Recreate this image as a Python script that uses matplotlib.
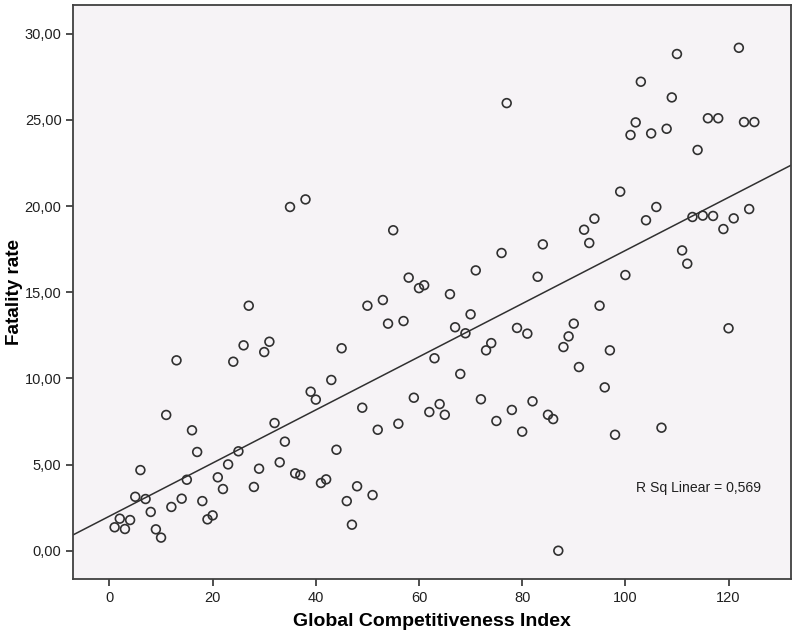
import numpy as np
import matplotlib.pyplot as plt
from matplotlib.ticker import FuncFormatter

# Global Competitiveness Index rank (1..125) and fatality rate
gci = np.arange(1, 126)
fatality = [
    1.36, 1.86, 1.26, 1.78, 3.13, 4.68, 3.00, 2.25, 1.24, 0.76,
    7.88, 2.54, 11.05, 3.02, 4.12, 6.99, 5.73, 2.88, 1.82, 2.05,
    4.26, 3.58, 5.01, 10.97, 5.77, 11.92, 14.22, 3.70, 4.76, 11.53,
    12.13, 7.41, 5.13, 6.33, 19.95, 4.49, 4.39, 20.39, 9.23, 8.77,
    3.93, 4.14, 9.91, 5.86, 11.75, 2.88, 1.51, 3.74, 8.30, 14.22,
    3.23, 7.02, 14.55, 13.18, 18.60, 7.37, 13.33, 15.85, 8.88, 15.24,
    15.41, 8.05, 11.17, 8.51, 7.89, 14.89, 12.97, 10.26, 12.62, 13.72,
    16.27, 8.79, 11.63, 12.05, 7.53, 17.28, 25.98, 8.17, 12.93, 6.91,
    12.60, 8.67, 15.90, 17.78, 7.89, 7.64, 0.00, 11.82, 12.44, 13.18,
    10.66, 18.63, 17.86, 19.27, 14.22, 9.48, 11.63, 6.73, 20.84, 16.00,
    24.13, 24.86, 27.22, 19.18, 24.22, 19.95, 7.14, 24.49, 26.31, 28.83,
    17.43, 16.66, 19.37, 23.26, 19.45, 25.10, 19.43, 25.10, 18.67, 12.91,
    19.29, 29.19, 24.88, 19.83, 24.88,
]
fatality = np.array(fatality)
y_ticks = [0, 5, 10, 15, 20, 25, 30]
x_ticks = [0, 20, 40, 60, 80, 100, 120]

plt.rcParams['font.family'] = ['Liberation Sans', 'DejaVu Sans']

fig = plt.figure(figsize=(7.92, 6.34), dpi=100)
ax = fig.add_axes([0.0926, 0.0868, 0.9061, 0.9052])
ax.set_facecolor('#f6f3f6')

ax.scatter(gci, fatality, s=40, facecolors='none', edgecolors='#303030',
           linewidths=1.2, zorder=3)

# linear fit line
slope, intercept = np.polyfit(gci, fatality, 1)
xlim = (-7.0, 132.1)
xs = np.array(xlim)
ax.plot(xs, intercept + slope * xs, color='#303030', lw=1.1, zorder=2)

ax.set_xlim(*xlim)
ax.set_ylim(-1.64, 31.67)
ax.set_xticks(x_ticks)
ax.set_yticks(y_ticks)
ax.yaxis.set_major_formatter(FuncFormatter(lambda v, p: f"{v:.2f}".replace('.', ',')))
ax.tick_params(direction='out', length=5, width=1.2, color='#303030',
               labelsize=10.5, labelcolor='#202020')

for s in ax.spines.values():
    s.set_color('#404040')
    s.set_linewidth(1.3)

ax.set_xlabel('Global Competitiveness Index', fontsize=14, fontweight='bold',
              labelpad=6)
ax.set_ylabel('Fatality rate', fontsize=13.6, fontweight='bold', labelpad=1)

ax.text(0.7836, 0.159, 'R Sq Linear = 0,569', transform=ax.transAxes,
        fontsize=10.1, va='center', ha='left', color='#202020')

fig.savefig('out.png', dpi=100)
